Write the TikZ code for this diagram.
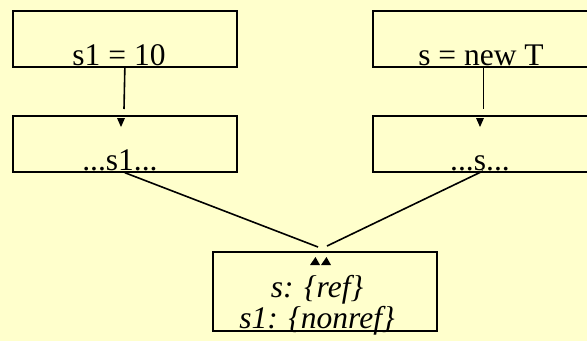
\documentclass[tikz,border=0pt]{standalone}
\usepackage{fontspec}
\setmainfont{Liberation Serif}
\definecolor{paper}{RGB}{255,255,204}
\begin{document}
\begin{tikzpicture}[x=1pt,y=-1pt,
  box/.style={draw,line width=1.7pt,anchor=north west,inner sep=0pt},
  lbl/.style={anchor=base,inner sep=0pt,font=\fontsize{31.5}{31.5}\selectfont},
  ital/.style={lbl,font=\fontsize{31.5}{31.5}\selectfont\itshape},
  link/.style={line width=1.6pt},
]
\fill[paper] (0,0) rectangle (587,341);
\useasboundingbox (0,0) rectangle (587,341);
\clip (0,0) rectangle (587,341);

% statement boxes
\node[box,minimum width=224pt,minimum height=56pt] (def1) at (12,10) {};
\node[box,minimum width=224pt,minimum height=56pt] (use1) at (12,115) {};
\node[box,minimum width=240pt,minimum height=56pt] (def2) at (372,10) {};
\node[box,minimum width=240pt,minimum height=56pt] (use2) at (372,115) {};
\node[box,minimum width=224pt,minimum height=79pt] (join) at (212,251) {};

% statement texts
\node[lbl] (t1) at (119,65) {s1 = 10};
\node[lbl] (t2) at (120,170) {...s1...};
\node[lbl] (t3) at (481,65) {s = new T};
\node[lbl] (t4) at (480,170) {...s...};
\node[ital] (t5) at (317,297) {s: \{ref\}};
\node[ital] (t6) at (317,328) {s1: \{nonref\}};

% edge end points
\coordinate (a1) at (def1.south);
\coordinate (b1) at (124,109);
\coordinate (a2) at (483.5,66);
\coordinate (b2) at (483.5,109);
\coordinate (a3) at (use1.south);
\coordinate (b3) at (318,247);
\coordinate (a4) at (483,171);
\coordinate (b4) at (327,246);

\draw[link] (a1) -- (b1);
\draw[link] (a2) -- (b2);
\draw[link] (a3) -- (b3);
\draw[link] (a4) -- (b4);

% arrow heads
\fill (117,118) -- (125,118) -- (121,127) -- cycle;
\fill (476,118) -- (484,118) -- (480,127) -- cycle;
\fill (310,265) -- (320,265) -- (315.5,257) -- cycle;
\fill (321,265) -- (331,265) -- (326.5,257) -- cycle;
\end{tikzpicture}
\end{document}
